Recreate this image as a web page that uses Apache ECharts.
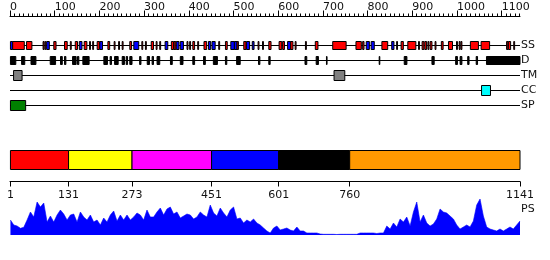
<!DOCTYPE html>
<html><head><meta charset="utf-8">
<script src="https://cdn.jsdelivr.net/npm/echarts@6/dist/echarts.min.js"></script>
<style>html,body{margin:0;padding:0;background:#fff}#c{width:550px;height:260px}</style>
</head><body><div id="c"></div>
<script>
// ---------- data ----------
const seqLength = 1141;
const trackNames = ['SS', 'D', 'TM', 'CC', 'SP'];
const rulerLabels = [0, 100, 200, 300, 400, 500, 600, 700, 800, 900, 1000, 1100];
const rulerMinorStep = 10;
// secondary structure: [start, end, type]  H = helix, E = strand
const secondaryStructure = [
  [1,6,'E'],[6,32,'H'],[37,49,'H'],[74,76,'H'],[78,80,'H'],[82,88,'E'],[98,103,'H'],[122,128,'H'],[135,137,'H'],
  [146,151,'H'],[155,161,'E'],[166,172,'H'],[178,180,'H'],[185,187,'H'],
  [195,200,'H'],[201,207,'E'],[219,223,'H'],[233,235,'H'],[243,245,'H'],[251,253,'H'],[268,272,'H'],[277,288,'E'],
  [295,297,'H'],[303,305,'H'],[316,321,'H'],[327,329,'H'],[335,337,'H'],[347,353,'E'],[361,366,'H'],[367,371,'H'],
  [372,378,'E'],[381,388,'E'],
  [396,398,'H'],[402,404,'H'],[409,413,'H'],[420,422,'H'],[434,440,'H'],[444,449,'E'],[452,459,'E'],[467,469,'H'],
  [482,486,'H'],[494,502,'E'],[502,508,'E'],[508,511,'H'],[523,528,'H'],[529,536,'E'],[542,546,'E'],[555,557,'H'],
  [565,567,'H'],[579,584,'H'],
  [602,608,'H'],[610,614,'H'],[621,628,'E'],[628,633,'H'],[638,640,'H'],[661,663,'H'],[683,689,'H'],[722,752,'H'],
  [774,786,'H'],[789,792,'H'],
  [797,804,'E'],[808,815,'E'],[832,845,'H'],[854,859,'E'],[865,867,'H'],[875,880,'H'],[890,908,'H'],[914,916,'H'],
  [922,926,'H'],[928,932,'H'],[935,937,'H'],[940,944,'H'],[951,953,'H'],[965,969,'H'],[981,990,'H'],
  [999,1001,'H'],[1005,1007,'H'],[1009,1011,'H'],[1030,1048,'H'],[1054,1073,'H'],[1111,1114,'H'],[1115,1120,'H'],[1127,1129,'H']
];
// disordered regions
const disorder = [
  [1,13],[26,33],[47,58],[90,102],[113,117],[122,125],[140,148],[151,154],[163,177],[210,218],[224,227],[234,242],
  [251,256],[260,263],[268,273],[290,293],[307,312],[318,321],[329,335],[359,363],[381,387],[409,413],[433,437],
  [455,464],[482,485],[507,515],[556,559],[579,582],[660,664],[685,690],[708,709],[826,827],[882,888],[944,949],
  [997,1001],[1007,1011],[1024,1027],[1043,1046],[1066,1141]
];
const transmembrane = [[8,27],[725,749]];
const coiledCoil = [[1055,1075]];
const signalPeptide = [[1,35]];
const domainBounds = [1, 131, 273, 451, 601, 760, 1141];
const domainColors = ['#ff0000', '#ffff00', '#ff00ff', '#0000ff', '#000000', '#ff9900'];
// PS profile, sampled evenly from residue 1 to 1141
const psValues = [
  15,10,9,6.7,7.7,15,23,18,33,28,32,13,19,13,20,25,21,15,20,21,13,23,18,15,20,13,15,10,17,13,
  20,24,14,20,15,20,15,18,22,20,15,25,18,18,23,27,20,26,28,21,23,17,19,21,20,16,18,23,20,18,
  30,22,19,27,22,18,25,28,16,17,12,15,13,16,12,10,7,4,2,7,9,
  5,6,7,5,4,8,4,4,2,2,2,2,1,0.7,0.7,0.7,0.7,0.5,0.7,0.7,0.7,0.7,0.7,0.7,2,2,2,2,2,1.5,
  2,2,9,6,12,8,16,13,18,9,23,33,13,20,12,9,11,16,26,23,22,19,16,10,6,8,10,8,14,30,
  36,19,8,6,5,4,6,4,6,8,6,10,14
];

// ---------- build ----------
const typeColor = { H: '#ff0000', E: '#0000ff' };
const segItems = [];
secondaryStructure.forEach(s => segItems.push({ value: [s[0], s[1], 0], itemStyle: { color: typeColor[s[2]] } }));
disorder.forEach(s => segItems.push({ value: [s[0], s[1], 1], itemStyle: { color: '#000000' } }));
const bigItems = [];
transmembrane.forEach(s => bigItems.push({ value: [s[0], s[1], 2], itemStyle: { color: '#808080' } }));
coiledCoil.forEach(s => bigItems.push({ value: [s[0], s[1], 3], itemStyle: { color: '#00ffff' } }));
signalPeptide.forEach(s => bigItems.push({ value: [s[0], s[1], 4], itemStyle: { color: '#008000' } }));

const domainItems = [];
for (let i = 0; i < domainBounds.length - 1; i++) {
  domainItems.push({ value: [domainBounds[i], domainBounds[i + 1]], itemStyle: { color: domainColors[i] } });
}
const psStep = (seqLength - 1) / (psValues.length - 1);
const psData = psValues.map((v, i) => [1 + i * psStep, v]);
const rulerMinor = [];
for (let v = 0; v < seqLength; v += rulerMinorStep) rulerMinor.push(v);

function boxRender(h) {
  return function (params, api) {
    const p0 = api.coord([api.value(0), api.value(2)]);
    const p1 = api.coord([api.value(1), api.value(2)]);
    return {
      type: 'rect',
      shape: { x: p0[0], y: p0[1] - h / 2, width: Math.max(p1[0] - p0[0], 0.6), height: h },
      style: { fill: api.visual('color'), stroke: '#000', lineWidth: 1 }
    };
  };
}

const L = 10, W = 510;
const txt = '#111';
const plain = v => String(v);
const option = {
  animation: false,
  grid: [
    { left: L, width: W, top: 15.5, height: 1 },            // 0 ruler
    { left: L, width: W, top: 38, height: 75 },             // 1 tracks
    { left: L, width: W, top: 150.5, height: 19 },          // 2 domain bar
    { left: L, width: W, top: 180.5, height: 1 },           // 3 domain axis
    { left: L, width: W, top: 199, height: 36 }             // 4 PS
  ],
  xAxis: [
    { gridIndex: 0, type: 'value', min: 0, max: seqLength, position: 'top',
      axisLine: { lineStyle: { color: '#000', width: 1 } },
      axisTick: { customValues: rulerMinor, length: 3, lineStyle: { color: '#000' } },
      axisLabel: { show: false }, splitLine: { show: false } },
    { gridIndex: 0, type: 'value', min: 0, max: seqLength, position: 'top',
      axisLine: { show: false },
      axisTick: { customValues: rulerLabels, length: 5, lineStyle: { color: '#000' } },
      axisLabel: { customValues: rulerLabels, align: 'left', margin: 3, fontSize: 11,
                   fontFamily: 'DejaVu Sans', color: txt, formatter: plain },
      splitLine: { show: false } },
    { gridIndex: 1, type: 'value', min: 0, max: seqLength, show: false },
    { gridIndex: 2, type: 'value', min: 0, max: seqLength, show: false },
    { gridIndex: 3, type: 'value', min: 0, max: seqLength, position: 'top',
      axisLine: { lineStyle: { color: '#000', width: 1 } },
      axisTick: { customValues: domainBounds, length: 5, inside: true, lineStyle: { color: '#000' } },
      axisLabel: { customValues: domainBounds, margin: 9, fontSize: 11, fontFamily: 'DejaVu Sans',
                   color: txt, inside: true, verticalAlign: 'top', formatter: plain },
      splitLine: { show: false } },
    { gridIndex: 4, type: 'value', min: 0, max: seqLength, show: false }
  ],
  yAxis: [
    { gridIndex: 0, type: 'value', show: false },
    { gridIndex: 1, type: 'category', data: trackNames, inverse: true, position: 'right',
      axisLine: { show: false }, axisTick: { show: false },
      axisLabel: { margin: 1, fontSize: 11, fontFamily: 'DejaVu Sans', color: txt, align: 'left' } },
    { gridIndex: 2, type: 'value', min: 0, max: 1, show: false },
    { gridIndex: 3, type: 'value', show: false },
    { gridIndex: 4, type: 'value', min: 0, max: 36, show: false }
  ],
  graphic: [
    { type: 'text', left: 521, top: 204, style: { text: 'PS', font: '11px "DejaVu Sans"', fill: txt } }
  ],
  series: [
    { type: 'custom', xAxisIndex: 2, yAxisIndex: 1, z: 1,
      data: trackNames.map((n, i) => [0, seqLength, i]),
      renderItem: function (params, api) {
        const p0 = api.coord([api.value(0), api.value(2)]);
        const p1 = api.coord([api.value(1), api.value(2)]);
        return { type: 'line', shape: { x1: p0[0], y1: p0[1], x2: p1[0], y2: p1[1] },
                 style: { stroke: '#000', lineWidth: 1 } };
      } },
    { type: 'custom', xAxisIndex: 2, yAxisIndex: 1, z: 2, data: segItems, renderItem: boxRender(8) },
    { type: 'custom', xAxisIndex: 2, yAxisIndex: 1, z: 2, data: bigItems, renderItem: boxRender(10) },
    { type: 'custom', xAxisIndex: 3, yAxisIndex: 2, z: 2, data: domainItems,
      renderItem: function (params, api) {
        const p0 = api.coord([api.value(0), 1]);
        const p1 = api.coord([api.value(1), 0]);
        return { type: 'rect', shape: { x: p0[0], y: p0[1], width: p1[0] - p0[0], height: p1[1] - p0[1] },
                 style: { fill: api.visual('color'), stroke: '#000', lineWidth: 1 } };
      } },
    { type: 'line', xAxisIndex: 5, yAxisIndex: 4, data: psData, symbol: 'none',
      lineStyle: { color: '#0000ff', width: 0.6 }, areaStyle: { color: '#0000ff', opacity: 1 } }
  ]
};
const chart = echarts.init(document.getElementById('c'), null, { renderer: 'canvas' });
chart.setOption(option);
</script></body></html>
